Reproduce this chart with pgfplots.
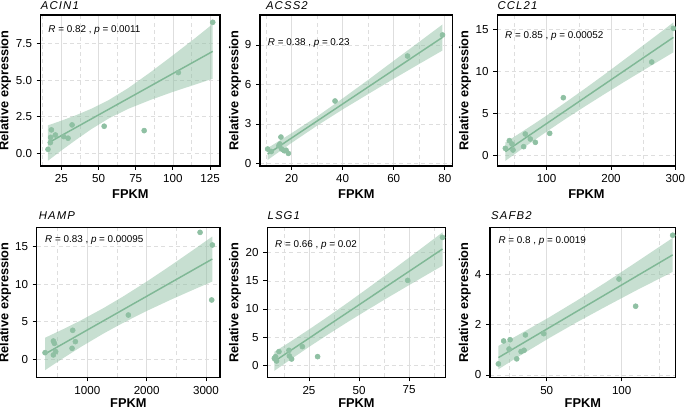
\documentclass[border=0pt]{standalone}
\usepackage{pgfplots}
\pgfplotsset{compat=1.18}
\usepackage{fontspec}
\setmainfont{Liberation Sans}
\newfontfamily\titlefont[LetterSpace=10]{Liberation Sans}
\definecolor{ptc}{RGB}{143,192,163}
\definecolor{linec}{RGB}{128,184,150}
\definecolor{bandc}{RGB}{143,192,163}
\definecolor{gridc}{RGB}{222,222,222}
\pgfplotsset{
 panel/.style={
  scale only axis, clip=false,
  axis line style={line width=0.8pt, black},
  tick style={line width=0.6pt, black},
  major tick length=3pt, minor tick length=0pt,
  tick align=outside, xtick pos=bottom, ytick pos=left,
  xmajorgrids, xminorgrids, ymajorgrids,
  major x grid style={gridc, line width=0.5pt},
  minor x grid style={gridc, line width=0.5pt, dash pattern=on 3pt off 2.5pt},
  major y grid style={gridc, line width=0.5pt, dash pattern=on 3pt off 2.5pt},
  ticklabel style={font=\fontsize{8.7}{10}\selectfont, black},
  /pgf/number format/assume math mode=true,
  /pgf/number format/1000 sep={},
  xlabel={FPKM}, ylabel={Relative expression},
  label style={font=\bfseries\fontsize{9.6}{11}\selectfont, inner sep=0pt},
  title style={anchor=base west, inner sep=0pt, font=\titlefont\itshape\fontsize{8.5}{9}\selectfont},
 },
 row1/.style={height=113.25pt, xlabel style={at={(rel axis cs:0.5,0)}, anchor=base, yshift=-24.7pt},
   title style={yshift=-1.6pt}},
 row2/.style={height=112.2pt, xlabel style={at={(rel axis cs:0.5,0)}, anchor=base, yshift=-22.9pt},
   title style={yshift=0.5pt}},
 band/.style={draw=none, fill=bandc, fill opacity=0.5},
 fit/.style={linec, line width=1.1pt},
 pts/.style={only marks, mark=*, mark size=1.9pt, mark options={draw=ptc, fill=ptc}},
}
\newcommand{\stat}[4]{\node[anchor=base west, inner sep=0pt, font=\fontsize{7.4}{8}\selectfont] at (rel axis cs:#1,#2) {\textit{R} = #3 , \textit{p} = #4};}
\begin{document}
\begin{tikzpicture}
\useasboundingbox (0pt,0pt) rectangle (513.75pt,306.75pt);
% ---------- ACIN1
\begin{axis}[panel, row1, at={(30.525pt,182.25pt)}, anchor=south west, width=134.475pt,
  xmin=11.1, xmax=131.7, ymin=-0.87, ymax=9.46,
  xtick={25,50,75,100,125}, minor xtick={12.5,37.5,62.5,87.5,112.5},
  ytick={0,2.5,5,7.5}, yticklabel style={/pgf/number format/.cd, fixed, fixed zerofill, precision=1},
  ylabel style={at={(rel axis cs:-0.199,0.5)}, anchor=center},
  title={ACIN1}, title style={at={(rel axis cs:0,1)}}]
\addplot[band] coordinates {(16,1.91) (25,2.23) (35,2.61) (45,3.04) (57,3.65) (70,4.46) (85,5.55) (100,6.70) (115,7.88) (126.8,8.84)
  (126.8,5.10) (115,4.70) (100,4.20) (85,3.65) (70,3.04) (57,2.39) (45,1.64) (35,0.93) (25,0.19) (16,-0.51)};
\addplot[pts] coordinates {(16,0.27) (17.6,0.73) (17.8,1.09) (18.3,1.6) (21,1.25) (26.6,1.14) (29.5,1.03) (32.2,1.94) (53.8,1.85) (80.7,1.55) (103.7,5.52) (126.8,8.96)};
\addplot[fit] coordinates {(16,0.70) (126.8,6.97)};
\stat{0.042}{0.885}{0.82}{0.0011}
\end{axis}
% ---------- ACSS2
\begin{axis}[panel, row1, at={(195pt,182.25pt)}, anchor=south west, width=144.525pt,
  xmin=7.6, xmax=83.1, ymin=-0.2, ymax=11.28,
  xtick={20,40,60,80}, minor xtick={10,30,50,70},
  ytick={0,3,6,9},
  ylabel style={at={(rel axis cs:-0.130,0.5)}, anchor=center},
  title={ACSS2}, title style={at={(rel axis cs:0.03,1)}}]
\addplot[band] coordinates {(10.6,1.16) (20,2.30) (30,3.57) (40,4.94) (50,6.35) (60,7.80) (70,9.24) (79.1,10.56)
  (79.1,8.58) (70,7.56) (60,6.43) (50,5.27) (40,4.10) (30,2.87) (20,1.56) (10.6,0.26)};
\addplot[pts] coordinates {(10.6,1.09) (12,0.9) (15,1.34) (15.4,1.47) (15.8,2.0) (16.1,1.09) (17.1,0.96) (17.8,1.0) (18.7,0.76) (37,4.74) (65.4,8.16) (79.1,9.76)};
\addplot[fit] coordinates {(10.6,0.71) (79.1,9.58)};
\stat{0.04}{0.797}{0.38}{0.23}
\end{axis}
% ---------- CCL21
\begin{axis}[panel, row1, at={(372.975pt,182.25pt)}, anchor=south west, width=133.8pt,
  xmin=23.3, xmax=300.5, ymin=-1.23, ymax=16.75,
  xtick={100,200,300}, minor xtick={50,150,250},
  ytick={0,5,10,15},
  ylabel style={at={(rel axis cs:-0.181,0.5)}, anchor=center},
  title={CCL21}, title style={at={(rel axis cs:0,1)}}]
\addplot[band] coordinates {(35.8,1.58) (60,2.76) (80,3.76) (104,4.99) (130,6.38) (160,8.01) (190,9.68) (220,11.40) (250,13.13) (280,14.87) (297,15.87)
  (297,12.31) (280,11.53) (250,10.15) (220,8.76) (190,7.34) (160,5.89) (130,4.41) (104,3.07) (80,1.80) (60,0.72) (35.8,-0.62)};
\addplot[pts] coordinates {(35.8,0.87) (42,1.79) (46.1,1.39) (47.7,0.67) (64.2,1.07) (66.8,2.58) (74.6,1.98) (82.4,1.59) (104.7,2.66) (125.9,6.9) (263.2,11.15) (296.9,15.16)};
\addplot[fit] coordinates {(35.8,0.48) (297,14.09)};
\stat{0.043}{0.846}{0.85}{0.00052}
\end{axis}
% ---------- HAMP
\begin{axis}[panel, row2, at={(27.525pt,23.775pt)}, anchor=south west, width=137.475pt,
  xmin=146, xmax=3236, ymin=-2.39, ymax=17.48,
  xtick={1000,2000,3000}, minor xtick={500,1500,2500},
  ytick={0,5,10,15},
  ylabel style={at={(rel axis cs:-0.173,0.5)}, anchor=center},
  title={HAMP}, title style={at={(rel axis cs:0.01,1)}}]
\addplot[band] coordinates {(287,2.86) (600,4.03) (900,5.21) (1274,6.81) (1600,8.33) (2000,10.32) (2400,12.43) (2800,14.61) (3107,16.31)
  (3107,10.33) (2800,9.29) (2400,7.89) (2000,6.42) (1600,4.83) (1274,3.43) (900,1.69) (600,0.19) (287,-1.44)};
\addplot[pts] coordinates {(287,0.88) (427,2.43) (444,2.12) (427,0.58) (466,1.02) (753,3.85) (742,1.46) (798,2.35) (1691,5.88) (2900,16.86) (3107,15.18) (3096,7.88)};
\addplot[fit] coordinates {(287,0.71) (3107,13.32)};
\stat{0.045}{0.902}{0.83}{0.00095}
\end{axis}
% ---------- LSG1
\begin{axis}[panel, row2, at={(200.475pt,23.775pt)}, anchor=south west, width=133.8pt,
  xmin=4.17, xmax=93.3, ymin=-2.13, ymax=24.44,
  xtick={25,50,75}, minor xtick={12.5,37.5,62.5,87.5},
  ytick={0,5,10,15,20},
  ylabel style={at={(rel axis cs:-0.181,0.5)}, anchor=center},
  title={LSG1}, title style={at={(rel axis cs:0,1)}}]
\addplot[band] coordinates {(7.7,2.40) (15,4.03) (25.5,6.48) (35,8.78) (45,11.28) (55,13.85) (65,16.47) (75,19.12) (85,21.81) (91.7,23.61)
  (91.7,17.69) (85,16.31) (75,14.24) (65,12.15) (55,10.01) (45,7.84) (35,5.59) (25.5,3.38) (15,0.83) (7.7,-0.98)};
\addplot[pts] coordinates {(7.7,1.24) (8.3,1.54) (8,1.12) (8.8,0.77) (10,2.43) (15,2.66) (15.2,1.66) (16.3,1.12) (21.7,3.31) (29.3,1.54) (74.3,15.09) (91.7,22.72)};
\addplot[fit] coordinates {(7.7,0.70) (91.7,20.65)};
\stat{0.043}{0.869}{0.66}{0.02}
\end{axis}
% ---------- SAFB2
\begin{axis}[panel, row2, at={(367.5pt,23.775pt)}, anchor=south west, width=139.275pt,
  xmin=12.2, xmax=136, ymin=-0.093, ymax=5.85,
  xtick={50,100}, minor xtick={25,75,125},
  ytick={0,2,4},
  ylabel style={at={(rel axis cs:-0.135,0.5)}, anchor=center},
  title={SAFB2}, title style={at={(rel axis cs:0.005,1)}}]
\addplot[band] coordinates {(17.8,1.155) (30,1.554) (51,2.267) (70,2.95) (90,3.703) (110,4.491) (134,5.445)
  (134,4.095) (110,3.369) (90,2.737) (70,2.09) (51,1.443) (30,0.686) (17.8,0.225)};
\addplot[pts] coordinates {(17.8,0.44) (21.3,1.35) (25.6,1.40) (24.9,1.03) (30,0.64) (32.9,0.93) (34.9,0.98) (35.8,1.59) (48,1.64) (98.2,3.81) (109.3,2.73) (134,5.55)};
\addplot[fit] coordinates {(17.8,0.69) (134,4.77)};
\stat{0.045}{0.891}{0.8}{0.0019}
\end{axis}
\end{tikzpicture}
\end{document}
